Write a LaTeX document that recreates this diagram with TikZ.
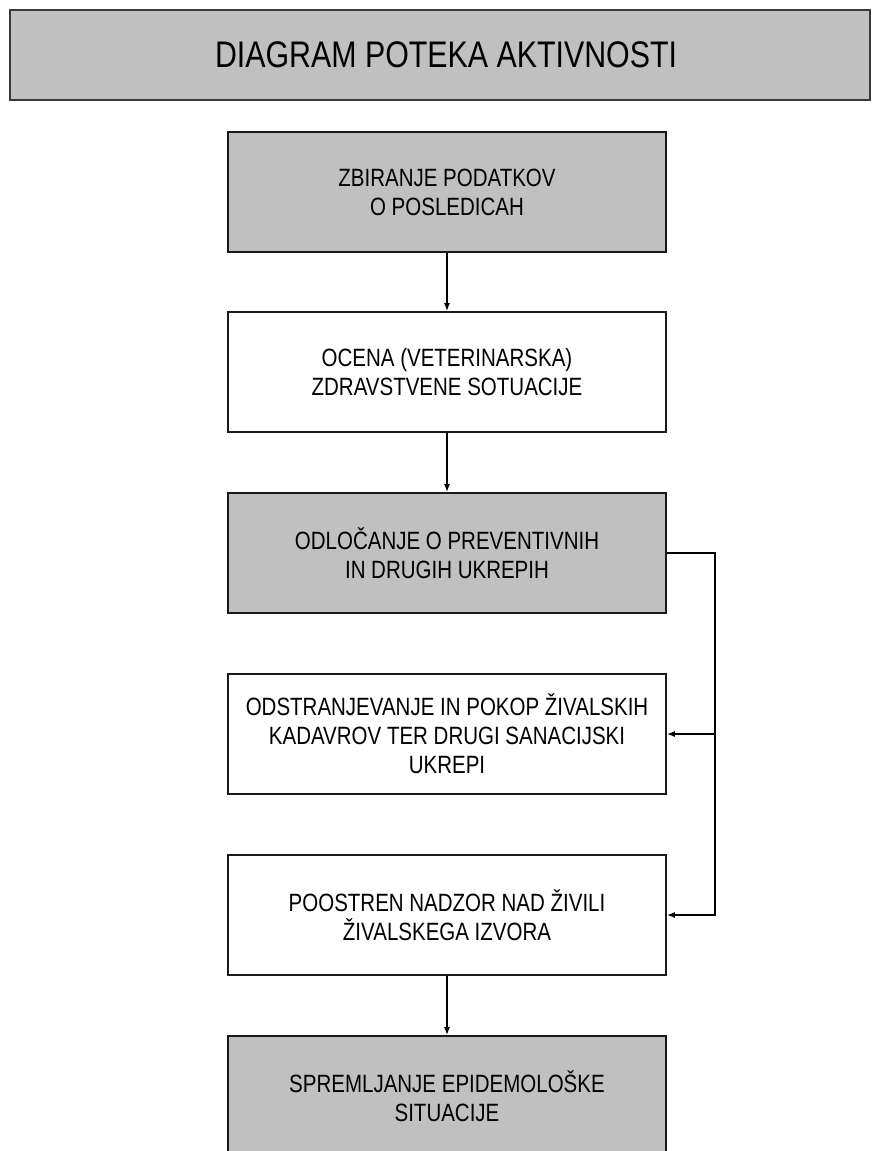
\documentclass[tikz,border=0pt]{standalone}
\usepackage{fontspec}
\setmainfont[FakeStretch=0.82]{Liberation Sans}
\usetikzlibrary{arrows.meta}
\definecolor{boxgray}{HTML}{C0C0C0}
\definecolor{edgegray}{HTML}{3A3A3A}
\tikzset{
  flowbox/.style={draw=black!90, line width=1.6pt, minimum width=438pt, minimum height=120pt,
    align=center, inner sep=0pt, font=\fontsize{25}{29}\selectfont},
  grayfill/.style={fill=boxgray},
  whitefill/.style={fill=white},
  titlebox/.style={draw=edgegray, line width=2.6pt, fill=boxgray, minimum width=860pt,
    minimum height=90pt, inner sep=0pt, font=\fontsize{37}{42}\selectfont},
  arr/.style={line width=1.5pt, -{Latex[length=8pt,width=6pt]}}
}
\begin{document}
\begin{tikzpicture}[x=1pt,y=-1pt]
\clip (0,0) rectangle (872,1151);
\fill[white] (0,0) rectangle (872,1151);
\node[titlebox] (title) at (440,55) {\hspace{12pt}DIAGRAM POTEKA AKTIVNOSTI};
\node[flowbox,grayfill] (n1) at (447,192) {ZBIRANJE PODATKOV\\O POSLEDICAH};
\node[flowbox,whitefill] (n2) at (447,372) {OCENA (VETERINARSKA)\\ZDRAVSTVENE SOTUACIJE};
\node[flowbox,grayfill] (n3) at (447,553) {ODLOČANJE O PREVENTIVNIH\\IN DRUGIH UKREPIH};
\node[flowbox,whitefill] (n4) at (447,734) {ODSTRANJEVANJE IN POKOP ŽIVALSKIH\\KADAVROV TER DRUGI SANACIJSKI\\UKREPI};
\node[flowbox,whitefill] (n5) at (447,915) {POOSTREN NADZOR NAD ŽIVILI\\ŽIVALSKEGA IZVORA};
\node[flowbox,grayfill] (n6) at (447,1096) {SPREMLJANJE EPIDEMOLOŠKE\\SITUACIJE};
\draw[arr] (n1.south) -- (n2.north);
\draw[arr] (n2.south) -- (n3.north);
\draw[arr] (n5.south) -- (n6.north);
\coordinate (bus) at (715,553);
\draw[arr] (n3.east) -- (bus) |- (n5.east);
\draw[arr] (bus |- n4.east) -- (n4.east);
\end{tikzpicture}
\end{document}
